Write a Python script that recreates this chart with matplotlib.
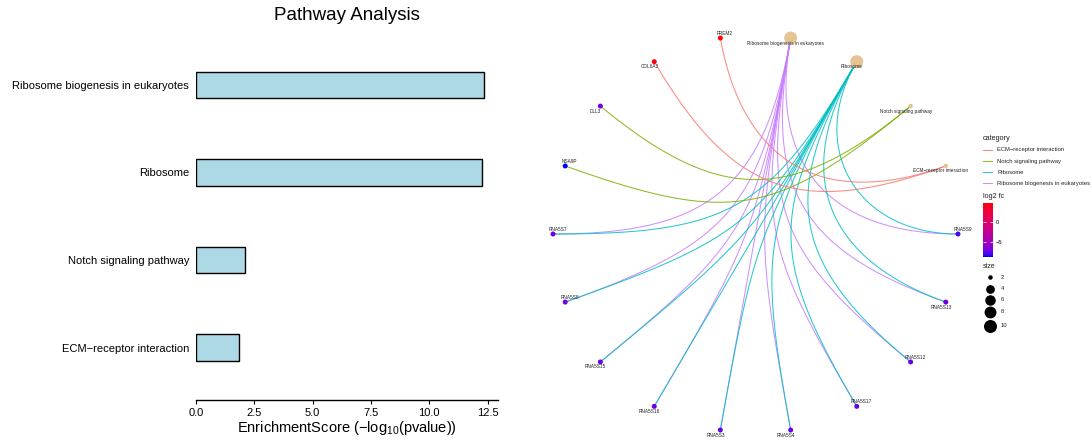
import numpy as np
import matplotlib
matplotlib.use('Agg')
import matplotlib.pyplot as plt
from matplotlib.colors import LinearSegmentedColormap, Normalize
from matplotlib.cm import ScalarMappable

plt.rcParams['font.family'] = ['Liberation Sans', 'DejaVu Sans']
plt.rcParams['mathtext.fontset'] = 'custom'
plt.rcParams['mathtext.rm'] = 'Liberation Sans'

# ---- bar chart data
pathways = ['Ribosome biogenesis in eukaryotes', 'Ribosome',
            'Notch signaling pathway', 'ECM\u2212receptor interaction']
enrich_score = [12.33, 12.24, 2.10, 1.83]

# ---- network data (circular layout order, clockwise)
categories = ['Ribosome biogenesis in eukaryotes', 'Ribosome',
              'Notch signaling pathway', 'ECM\u2212receptor interaction']
category_size = [10, 10, 2, 2]
category_colors = ['#C77CFF', '#00BFC4', '#7CAE00', '#F8766D']
genes = ['RNA5S9', 'RNA5S13', 'RNA5S12', 'RNA5S17', 'RNA5S4', 'RNA5S3',
         'RNA5S16', 'RNA5S15', 'RNA5S8', 'RNA5S7', 'NSA9P', 'DLL3',
         'COL6A3', 'FREM2']
gene_log2fc = [-8.0, -7.3, -7.3, -7.4, -7.3, -7.3, -7.3, -7.3, -7.3,
               -7.4, -8.7, -6.9, 4.5, 4.7]
rna_genes = ['RNA5S9', 'RNA5S13', 'RNA5S12', 'RNA5S17', 'RNA5S4', 'RNA5S3',
             'RNA5S16', 'RNA5S15', 'RNA5S8', 'RNA5S7']
gene_sets = [rna_genes, rna_genes, ['DLL3', 'NSA9P'], ['FREM2', 'COL6A3']]
# label side: d = below-left, u = above-right
label_side = ['d', 'd', 'd', 'd', 'u', 'd', 'u', 'u', 'd', 'd', 'd', 'd',
              'u', 'u', 'u', 'd', 'd', 'u']
size_breaks = [2, 4, 6, 8, 10]


def srgb_to_lab(c):
    c = np.asarray(c, float)
    lin = np.where(c <= 0.04045, c / 12.92, ((c + 0.055) / 1.055) ** 2.4)
    M = np.array([[0.4124, 0.3576, 0.1805], [0.2126, 0.7152, 0.0722],
                  [0.0193, 0.1192, 0.9505]])
    xyz = M @ lin / np.array([0.95047, 1.0, 1.08883])
    f = np.where(xyz > 0.008856, np.cbrt(xyz), 7.787 * xyz + 16 / 116)
    return np.array([116 * f[1] - 16, 500 * (f[0] - f[1]), 200 * (f[1] - f[2])])


def lab_to_srgb(lab):
    L, a, b = lab
    fy = (L + 16) / 116
    f = np.array([fy + a / 500, fy, fy - b / 200])
    xyz = np.where(f ** 3 > 0.008856, f ** 3, (f - 16 / 116) / 7.787)
    xyz = xyz * np.array([0.95047, 1.0, 1.08883])
    Minv = np.array([[3.2406, -1.5372, -0.4986], [-0.9689, 1.8758, 0.0415],
                     [0.0557, -0.2040, 1.0570]])
    lin = Minv @ xyz
    c = np.where(lin <= 0.0031308, 12.92 * lin, 1.055 * np.clip(lin, 0, None) ** (1 / 2.4) - 0.055)
    return np.clip(c, 0, 1)


lo, hi = srgb_to_lab([0, 0, 1]), srgb_to_lab([1, 0, 0])
ramp = [lab_to_srgb(lo + (hi - lo) * t) for t in np.linspace(0, 1, 64)]
cmap = LinearSegmentedColormap.from_list('bluered', ramp)
norm = Normalize(min(gene_log2fc), max(gene_log2fc))

fig = plt.figure(figsize=(10.92, 4.4), dpi=100)

# ---------------- left: bar chart
ax = fig.add_axes([196 / 1092, 40 / 440, 302 / 1092, 367.5 / 440])
ypos = np.arange(len(pathways))[::-1]
ax.barh(ypos, enrich_score, height=0.3, color='#ADD8E6', edgecolor='black', linewidth=1.0)
ax.set_ylim(-0.6, 3.6)
ax.set_xlim(0, max(enrich_score) * 1.05)
ax.set_yticks(ypos)
ax.set_yticklabels(pathways, fontsize=8)
ax.set_xticks([0, 2.5, 5, 7.5, 10, 12.5])
ax.set_xticklabels(['0.0', '2.5', '5.0', '7.5', '10.0', '12.5'], fontsize=8)
ax.tick_params(axis='y', length=0, pad=5)
ax.tick_params(axis='x', length=3, width=0.8, pad=2.5)
for s in ['left', 'top', 'right']:
    ax.spines[s].set_visible(False)
ax.spines['bottom'].set_linewidth(1.0)
ax.set_xlabel('EnrichmentScore (\u2212log$_{\\mathrm{10}}$(pvalue))', fontsize=10.5, labelpad=1)
fig.text(347 / 1092, 1 - 16 / 440, 'Pathway Analysis', fontsize=13.5, ha='center', va='center')

# ---------------- right: gene-concept network
nodes = categories + genes
theta = np.deg2rad(80 - 20 * np.arange(len(nodes)))
pos = {n: np.array([np.cos(t), np.sin(t)]) for n, t in zip(nodes, theta)}

nax = fig.add_axes([528.7 / 1092, 1 / 440, 453.6 / 1092, 423.9 / 440])
nax.set_xlim(-1.12, 1.12)
nax.set_ylim(-1.03, 1.1)
nax.axis('off')

# circular arc edges: cubic bezier, control points pulled toward the centre
t = np.linspace(0, 1, 80)[:, None]
for cat, col, members in zip(categories, category_colors, gene_sets):
    for g in members:
        p, q = pos[cat], pos[g]
        k = 1 - np.linalg.norm(q - p) / 2
        c1, c2 = p * k, q * k
        curve = ((1 - t) ** 3 * p + 3 * (1 - t) ** 2 * t * c1
                 + 3 * (1 - t) * t ** 2 * c2 + t ** 3 * q)
        nax.plot(curve[:, 0], curve[:, 1], color=col, lw=0.75, alpha=0.85, zorder=1)

cat_xy = np.array([pos[c] for c in categories])
cat_d = [4.5 + 8.5 * np.sqrt((v - 2) / 8) for v in category_size]
nax.scatter(cat_xy[:, 0], cat_xy[:, 1], s=[(d * 0.72) ** 2 for d in cat_d],
            color='#E5C494', lw=0, zorder=3)
gene_xy = np.array([pos[g] for g in genes])
nax.scatter(gene_xy[:, 0], gene_xy[:, 1], s=(5 * 0.72) ** 2, c=gene_log2fc,
            cmap=cmap, norm=norm, lw=0, zorder=3)

for n, side in zip(nodes, label_side):
    off = (-3.5, -3.6) if side == 'd' else (3.3, 3.4)
    nax.annotate(n, pos[n], xytext=off, textcoords='offset points', fontsize=3.4,
                 ha='center', va='center', color='#222222', zorder=4)

# ---------------- legends
lax = fig.add_axes([0, 0, 1, 1])
lax.set_xlim(0, 1092)
lax.set_ylim(440, 0)
lax.axis('off')
lax.text(983, 138.5, 'category', fontsize=5.2, va='center', ha='left', color='#222222')
order = np.argsort(categories)
for k, i in enumerate(order):
    yy = 150 + 11 * k
    lax.plot([983.3, 992.3], [yy, yy], color=category_colors[i], lw=0.75, alpha=0.85)
    lax.text(997.3, yy, categories[i], fontsize=4.2, va='center', ha='left', color='#222222')

lax.text(983, 197, 'log2 fc', fontsize=5.2, va='center', ha='left', color='#222222')
cax = fig.add_axes([982.7 / 1092, 1 - 256.7 / 440, 10.6 / 1092, 54 / 440])
cb = fig.colorbar(ScalarMappable(norm=norm, cmap=cmap), cax=cax, ticks=[0, -5])
cb.outline.set_visible(False)
cb.ax.yaxis.set_ticks_position('both')
cb.ax.tick_params(length=2, width=0.5, color='white', labelsize=4.2, pad=1.5,
                  direction='in', labelleft=False, labelright=True)
cb.ax.set_yticklabels(['0', '\u22125'])

lax.text(983, 266, 'size', fontsize=5.2, va='center', ha='left', color='#222222')
size_y = [277.3, 288.7, 299.7, 311.7, 325.7]
for v, yy in zip(size_breaks, size_y):
    d = 4.5 + 8.5 * np.sqrt((v - 2) / 8)
    lax.scatter([990], [yy], s=(d * 0.72) ** 2, color='black', lw=0)
    lax.text(1000.5, yy, str(v), fontsize=4.2, va='center', ha='left', color='#222222')

fig.savefig('out.png', dpi=100)
